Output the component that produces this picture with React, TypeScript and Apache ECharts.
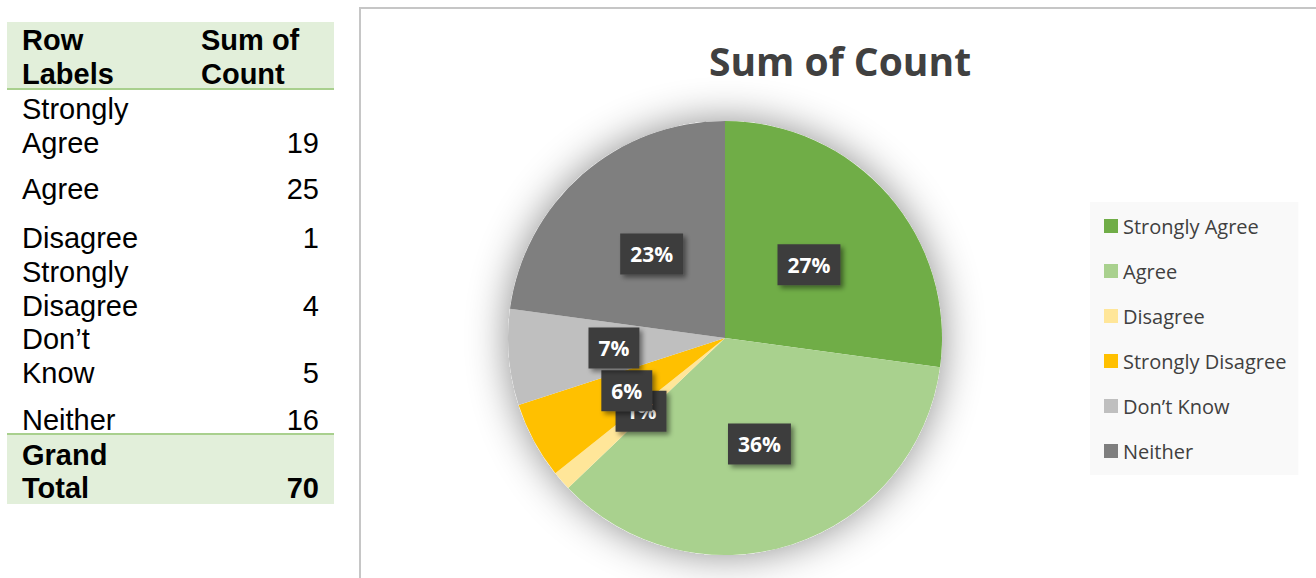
import React, { useEffect, useRef } from "react";
import * as echarts from "echarts";

const categories = ["Strongly Agree", "Agree", "Disagree", "Strongly Disagree", "Don’t Know", "Neither"];
const counts = [19, 25, 1, 4, 5, 16];
const colors = ["#70ad47", "#a9d18e", "#ffe699", "#ffc000", "#bfbfbf", "#7f7f7f"];
const grandTotalLabel = "Grand Total";
const grandTotal = 70;
const headerLabels = ["Row Labels", "Sum of Count"];
const chartTitle = "Sum of Count";

// layout (cap-top y of first line of each table row)
const rowTops = [99, 179, 228, 262, 329, 410];
const LINE = 33.5;

const tableFont = "'Liberation Sans', Arial, sans-serif";

function TextLine(props: { text: string; capTop: number; left?: number; right?: number; bold?: boolean }) {
  const style: React.CSSProperties = {
    position: "absolute",
    top: props.capTop - 4,
    fontFamily: tableFont,
    fontSize: 29,
    lineHeight: "29px",
    fontWeight: props.bold ? "bold" : "normal",
    color: "#000",
    whiteSpace: "nowrap",
  };
  if (props.left !== undefined) style.left = props.left;
  if (props.right !== undefined) {
    style.left = props.right - 200;
    style.width = 200;
    style.textAlign = "right";
  }
  return <div style={style}>{props.text}</div>;
}

function Table() {
  const items: React.ReactNode[] = [];
  const h0 = headerLabels[0].split(" ");
  const h1 = headerLabels[1].split(" ");
  items.push(<div key="hb" style={{ position: "absolute", left: 7, top: 22, width: 327, height: 66, background: "#e2efda" }} />);
  items.push(<div key="hl" style={{ position: "absolute", left: 7, top: 88, width: 327, height: 2, background: "#a9d08e" }} />);
  items.push(<TextLine key="h0a" text={h0[0]} capTop={30} left={22} bold />);
  items.push(<TextLine key="h0b" text={h0[1]} capTop={64} left={22} bold />);
  items.push(<TextLine key="h1a" text={h1[0] + " " + h1[1]} capTop={30} left={201} bold />);
  items.push(<TextLine key="h1b" text={h1[2]} capTop={64} left={201} bold />);
  categories.forEach((c, i) => {
    const words = c.split(" ");
    words.forEach((w, j) => {
      items.push(<TextLine key={"r" + i + "_" + j} text={w} capTop={rowTops[i] + j * LINE} left={22} />);
    });
    items.push(
      <TextLine key={"v" + i} text={String(counts[i])} capTop={rowTops[i] + (words.length - 1) * LINE} right={319} />
    );
  });
  items.push(<div key="fl" style={{ position: "absolute", left: 7, top: 433, width: 327, height: 2, background: "#a9d08e" }} />);
  items.push(<div key="fb" style={{ position: "absolute", left: 7, top: 435, width: 327, height: 69, background: "#e2efda" }} />);
  const g = grandTotalLabel.split(" ");
  items.push(<TextLine key="g0" text={g[0]} capTop={445} left={22} bold />);
  items.push(<TextLine key="g1" text={g[1]} capTop={478} left={22} bold />);
  items.push(<TextLine key="gv" text={String(grandTotal)} capTop={478} right={319} bold />);
  return <>{items}</>;
}

export default function App() {
  const ref = useRef<HTMLDivElement>(null);
  useEffect(() => {
    if (!ref.current) return;
    const chart = echarts.init(ref.current, undefined, { renderer: "svg" });
    chart.setOption({
      animation: false,
      backgroundColor: "transparent",
      graphic: [
        {
          type: "text",
          x: 840,
          y: 60,
          style: {
            text: chartTitle,
            font: "bold 39px 'Open Sans', sans-serif",
            fill: "#404040",
            textAlign: "center",
            textVerticalAlign: "middle",
          },
        },
      ],
      legend: {
        orient: "vertical",
        left: 1090,
        top: 202,
        padding: [14, 12, 14, 14],
        backgroundColor: "#f9f9f9",
        itemWidth: 14,
        itemHeight: 14,
        itemGap: 25,
        icon: "rect",
        data: categories,
        selectedMode: false,
        textStyle: {
          fontFamily: "'Open Sans', sans-serif",
          fontSize: 20,
          color: "#404040",
          padding: [0, 0, 0, 0],
        },
      },
      series: [
        {
          type: "pie",
          name: "shadow",
          center: [725, 338],
          radius: 217,
          silent: true,
          label: { show: false },
          labelLine: { show: false },
          itemStyle: {
            color: "#ffffff",
            shadowBlur: 40,
            shadowColor: "rgba(0,0,0,0.45)",
          },
          data: [{ value: 1, name: "" }],
          z: 1,
        },
        {
          type: "pie",
          name: "Sum of Count",
          center: [725, 338],
          radius: 217,
          startAngle: 90,
          clockwise: true,
          percentPrecision: 0,
          avoidLabelOverlap: false,
          minShowLabelAngle: 0,
          labelLayout: { hideOverlap: false },
          z: 2,
          label: {
            show: true,
            position: "inside",
            formatter: "{d}%",
            color: "#ffffff",
            fontFamily: "'Open Sans', sans-serif",
            fontWeight: "bold",
            fontSize: 21,
            backgroundColor: "#3d3d3d",
            padding: [10, 10, 10, 10],
            shadowBlur: 5,
            shadowOffsetX: 3,
            shadowOffsetY: 3,
            shadowColor: "rgba(0,0,0,0.45)",
          },
          labelLine: { show: false },
          itemStyle: { borderWidth: 0 },
          emphasis: { disabled: true },
          data: categories.map((c, i) => ({ name: c, value: counts[i], itemStyle: { color: colors[i] } })),
        },
      ],
    });
    return () => chart.dispose();
  }, []);
  return (
    <div style={{ position: "absolute", left: 0, top: 0, width: 1316, height: 578, background: "#fff", overflow: "hidden" }}>
      <div
        style={{
          position: "absolute",
          left: 359,
          top: 7,
          width: 1316 - 359,
          height: 578 - 7,
          borderLeft: "2px solid #c6c6c6",
          borderTop: "2px solid #c6c6c6",
          boxSizing: "border-box",
        }}
      />
      <div ref={ref} style={{ position: "absolute", left: 0, top: 0, width: 1316, height: 578 }} />
      <Table />
    </div>
  );
}
